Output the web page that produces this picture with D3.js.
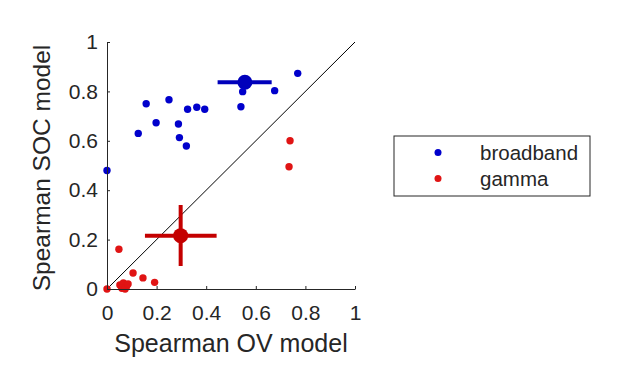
<!DOCTYPE html>
<html>
<head>
<meta charset="utf-8">
<script src="https://cdn.jsdelivr.net/npm/d3@7"></script>
<style>
  body { margin: 0; background: #fff; }
  svg text { font-family: "Liberation Sans", Arial, Helvetica, sans-serif; fill: #262626; }
</style>
</head>
<body>
<div class="chart"></div>
<script>
// individual sessions
const broadbandX = [0, 0.126, 0.158, 0.198, 0.25, 0.288, 0.292, 0.32, 0.325, 0.362, 0.394, 0.547, 0.54, 0.676, 0.769];
const broadbandY = [0.48, 0.63, 0.75, 0.673, 0.766, 0.668, 0.613, 0.579, 0.728, 0.736, 0.728, 0.799, 0.738, 0.803, 0.873];
const gammaX = [0, 0.048, 0.105, 0.145, 0.192, 0.052, 0.066, 0.079, 0.06, 0.073, 0.085, 0.738, 0.734];
const gammaY = [0, 0.161, 0.065, 0.045, 0.027, 0.016, 0.025, 0.01, 0.003, 0, 0.02, 0.6, 0.495];

// means with error bars: [x, y, xLo, xHi, yLo, yHi]
const broadbandMean = [0.556, 0.837, 0.446, 0.664, 0.837, 0.837];
const gammaMean = [0.297, 0.216, 0.153, 0.442, 0.093, 0.34];

const ticks = [0, 0.2, 0.4, 0.6, 0.8, 1];
const seriesNames = ["broadband", "gamma"];
const colors = { broadband: "#0000cc", gamma: "#e01414" };
const meanColors = { broadband: "#0000bb", gamma: "#c40000" };

const width = 617, height = 381;
const svg = d3.select(".chart").append("svg")
  .attr("width", width)
  .attr("height", height);

const x = d3.scaleLinear().domain([0, 1]).range([107, 355]);
const y = d3.scaleLinear().domain([0, 1]).range([289, 42]);

// diagonal
svg.append("line")
  .attr("x1", x(0)).attr("y1", y(0))
  .attr("x2", x(1)).attr("y2", y(1))
  .attr("stroke", "#000")
  .attr("stroke-width", 1);

function drawMean(m, color) {
  const g = svg.append("g");
  g.append("line")
    .attr("x1", x(m[2])).attr("x2", x(m[3]))
    .attr("y1", y(m[1])).attr("y2", y(m[1]))
    .attr("stroke", color).attr("stroke-width", 4);
  if (m[4] !== m[5]) {
    g.append("line")
      .attr("x1", x(m[0])).attr("x2", x(m[0]))
      .attr("y1", y(m[4])).attr("y2", y(m[5]))
      .attr("stroke", color).attr("stroke-width", 4);
  }
  g.append("circle")
    .attr("cx", x(m[0])).attr("cy", y(m[1]))
    .attr("r", 7.5)
    .attr("fill", color);
}

function drawDots(xs, ys, color) {
  svg.append("g")
    .selectAll("circle")
    .data(xs.map((v, i) => [v, ys[i]]))
    .enter()
    .append("circle")
    .attr("cx", (d) => x(d[0]))
    .attr("cy", (d) => y(d[1]))
    .attr("r", 3.7)
    .attr("fill", color);
}

drawMean(gammaMean, meanColors.gamma);
drawDots(gammaX, gammaY, colors.gamma);
drawMean(broadbandMean, meanColors.broadband);
drawDots(broadbandX, broadbandY, colors.broadband);

// axes
const xAxis = svg.append("g")
  .attr("transform", "translate(0," + y(0) + ")")
  .call(d3.axisBottom(x).tickValues(ticks).tickFormat(d3.format("~g"))
    .tickSizeInner(-3).tickSizeOuter(0).tickPadding(16));
const yAxis = svg.append("g")
  .attr("transform", "translate(" + x(0) + ",0)")
  .call(d3.axisLeft(y).tickValues(ticks).tickFormat(d3.format("~g"))
    .tickSizeInner(-3).tickSizeOuter(0).tickPadding(9));

[xAxis, yAxis].forEach((a) => {
  a.select(".domain").attr("stroke", "#262626").attr("stroke-width", 1);
  a.selectAll(".tick line").attr("stroke", "#262626");
  a.selectAll(".tick text").style("font-size", "21px").attr("fill", "#262626");
});

svg.append("text")
  .attr("x", (x(0) + x(1)) / 2)
  .attr("y", 352)
  .attr("text-anchor", "middle")
  .style("font-size", "25px")
  .text("Spearman OV model");

svg.append("text")
  .attr("transform", "rotate(-90)")
  .attr("x", -168)
  .attr("y", 50)
  .attr("text-anchor", "middle")
  .style("font-size", "24.5px")
  .text("Spearman SOC model");

// legend
const legend = svg.append("g");
legend.append("rect")
  .attr("x", 394).attr("y", 136)
  .attr("width", 196).attr("height", 60)
  .attr("fill", "#fff")
  .attr("stroke", "#262626")
  .attr("stroke-width", 1);

seriesNames.forEach((name, i) => {
  const cy = 152.5 + i * 26;
  legend.append("circle")
    .attr("cx", 438).attr("cy", cy)
    .attr("r", 3.5)
    .attr("fill", colors[name]);
  legend.append("text")
    .attr("x", 480).attr("y", cy + 7)
    .style("font-size", "20.5px")
    .text(name);
});
</script>
</body>
</html>
